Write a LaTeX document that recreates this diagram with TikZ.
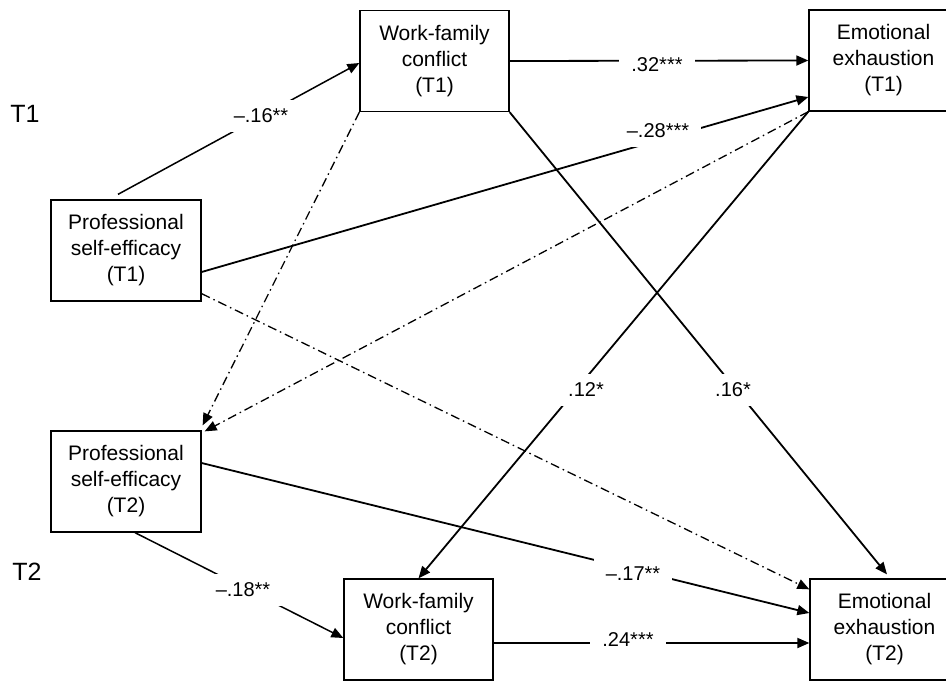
\documentclass[tikz,border=0pt]{standalone}
\usepackage{fontspec}
\setmainfont{Liberation Sans}
\usetikzlibrary{arrows.meta,calc}
\begin{document}
\begin{tikzpicture}[x=1pt,y=-1pt,
  box/.style={draw, line width=1.3pt, minimum width=149pt, minimum height=101pt, inner sep=0pt, align=center, font=\fontsize{21}{26}\selectfont},
  link/.style={line width=1.8pt, -{Triangle[length=12pt,width=10pt]}},
  dd/.style={line width=1.3pt, dash pattern=on 9pt off 4pt on 1.5pt off 4pt, -{Triangle[length=12pt,width=10pt]}},
  lab/.style={fill=white, inner xsep=12pt, inner ysep=9pt, font=\fontsize{20}{24}\selectfont},
  tlab/.style={font=\fontsize{25}{30}\selectfont, inner sep=0pt}
]
\useasboundingbox (0,0) rectangle (946,682);
\clip (0,0) rectangle (946,682);

% boxes
\node[box] (wfcA) at (434.5,61) {Work-family\\conflict\\(T1)};
\node[box] (eeA) at (883.5,60.5) {Emotional\\exhaustion\\(T1)};
\node[box, minimum width=150pt] (pseA) at (126,250.5) {Professional\\self-efficacy\\(T1)};
\node[box, minimum width=150pt] (pseB) at (126,481.5) {Professional\\self-efficacy\\(T2)};
\node[box] (wfcB) at (418.5,629.5) {Work-family\\conflict\\(T2)};
\node[box] (eeB) at (884.5,629.5) {Emotional\\exhaustion\\(T2)};

% time labels
\node[tlab] (tA) at (25,114) {T1};
\node[tlab] (tB) at (27,572) {T2};

% dash-dot connectors
\draw[dd] (wfcA.south west) -- ($(pseB.north east)+(1,-5)$);
\draw[dd] (eeA.south west) -- ($(pseB.north east)+(3,1)$);
\draw[dd] ($(pseA.south east)+(0,-8)$) -- ($(eeB.north west)+(0,11)$);

% solid connectors
\draw[link, line width=1.5pt] ($(pseA.north)+(-8,-5)$) -- ($(wfcA.west)+(0,2)$);
\draw[link] (wfcA.east) -- (eeA.west);
\draw[link] ($(pseA.east)+(0,21.5)$) -- ($(eeA.west)+(0,36.5)$);
\draw[link] (wfcA.south east) -- ($(eeB.north)+(2.5,-4)$);
\draw[link] (eeA.south west) -- (wfcB.north);
\draw[link, line width=1.5pt] ($(pseB.south)+(9,0)$) -- ($(wfcB.west)+(0,8.5)$);
\draw[link] ($(pseB.east)+(0,-18.5)$) -- ($(eeB.west)+(0,-16.5)$);
\draw[link] ($(wfcB.east)+(0,13.5)$) -- ($(eeB.west)+(0,13.5)$);

% coefficient labels
\node[lab] (l1) at (261,116) {–.16**};
\node[lab] (l2) at (657,65) {.32***};
\node[lab] (l3) at (658,131) {–.28***};
\node[lab] (l4) at (733,390) {.16*};
\node[lab] (l5) at (586,390) {.12*};
\node[lab] (l6) at (243,590) {–.18**};
\node[lab] (l7) at (633,574) {–.17**};
\node[lab] (l8) at (628,640) {.24***};
\end{tikzpicture}
\end{document}
